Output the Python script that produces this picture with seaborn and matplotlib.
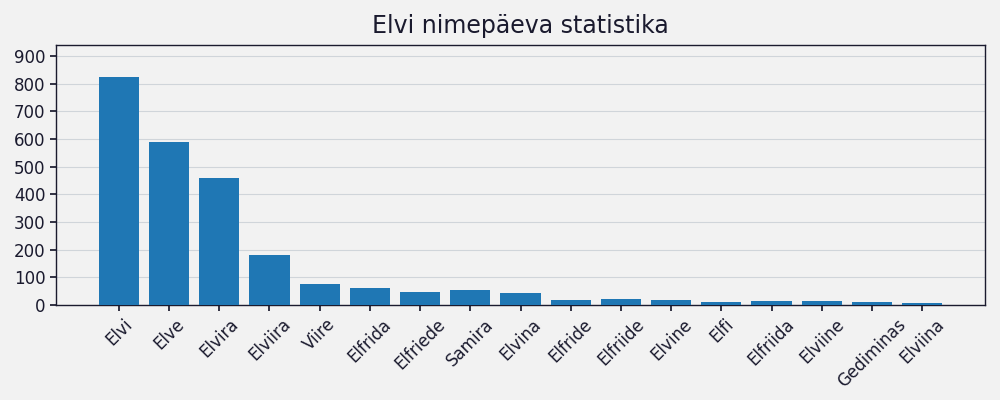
import matplotlib
matplotlib.use("Agg")
import matplotlib.pyplot as plt
import seaborn as sns
import pandas as pd

names = ["Elvi", "Elve", "Elvira", "Elviira", "Viire", "Elfrida", "Elfriede", "Samira",
         "Elvina", "Elfride", "Elfriide", "Elvine", "Elfi", "Elfriida", "Elviine",
         "Gediminas", "Elviina"]
counts = [824, 590, 460, 182, 75, 61, 46, 54, 43, 18, 21, 18, 11, 14, 14, 11, 7]
title = "Elvi nimepäeva statistika"

sns.set_theme(style="ticks")
plt.rcParams['font.family'] = ['DejaVu Sans']
bg = "#f2f2f2"
fig = plt.figure(figsize=(10, 4), dpi=100, facecolor=bg)
ax = fig.add_axes([0.056, 0.2375, 0.929, 0.65])
ax.set_facecolor(bg)
df = pd.DataFrame({"name": names, "count": counts})
sns.barplot(data=df, x="name", y="count", color="#1f77b4", saturation=1, width=0.8,
            linewidth=0, edgecolor="none", ax=ax, zorder=3)
ax.set_xlim(-1.25, len(names) - 1 + 1.25)
ax.set_ylim(0, 940)
ax.set_yticks(range(0, 901, 100))
ax.yaxis.grid(True, color="#d0d5da", linewidth=0.8, zorder=0)
ax.set_axisbelow(True)
ax.set_xlabel("")
ax.set_ylabel("")
ax.set_title(title, fontsize=17, color="#1a1a2e", pad=9)
ax.tick_params(axis="both", labelsize=12, colors="#1a1a2e", length=4)
plt.setp(ax.get_xticklabels(), rotation=45, ha="center")
for s in ax.spines.values():
    s.set_color("#1a1a2e")
    s.set_linewidth(1)
fig.savefig("out.png", dpi=100, facecolor=bg)
